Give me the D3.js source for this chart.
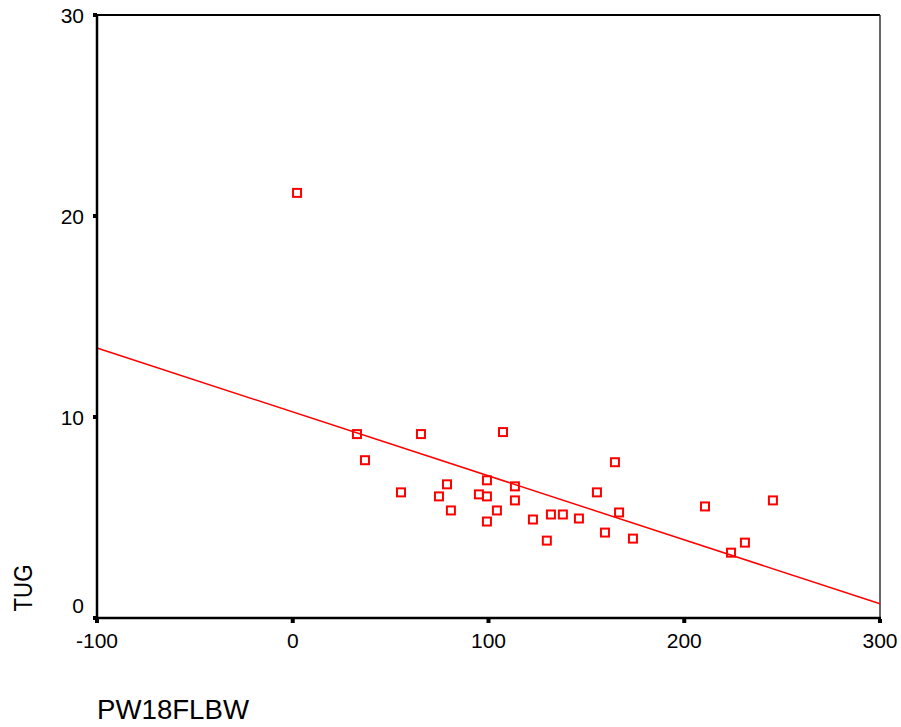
<!DOCTYPE html>
<html>
<head>
<meta charset="utf-8">
<script src="https://cdn.jsdelivr.net/npm/d3@7"></script>
<style>
    body { margin: 0; background: #fff; }
    text { font-family: "Liberation Sans", Arial, sans-serif; fill: #000; }
</style>
</head>
<body>
<script>
// data
var pw18flbw = [2.2, 32.8, 36.9, 55.3, 65.5, 74.7, 78.8, 80.8, 95.1, 99.2, 99.2, 99.2, 104.3, 107.4, 113.5,
    113.5, 122.7, 129.8, 131.9, 138.0, 146.2, 155.4, 159.5, 164.6, 166.7, 173.8, 210.6, 223.9, 231.0, 245.3];
var tug = [21.15, 9.15, 7.85, 6.25, 9.15, 6.05, 6.65, 5.35, 6.15, 6.05, 6.85, 4.8, 5.35, 9.25, 6.55,
    5.85, 4.9, 3.85, 5.15, 5.15, 4.95, 6.25, 4.25, 7.75, 5.25, 3.95, 5.55, 3.25, 3.75, 5.85];

// fitted line, TUG = a + b * PW18FLBW
var fit = {a: 10.25, b: -0.0318};

var xTicks = [-100, 0, 100, 200, 300];
var yTicks = [0, 10, 20, 30];

var width = 901, height = 727;
var margin = {left: 97, right: 880, top: 15, bottom: 618};

var svg = d3.select("body").append("svg")
    .attr("width", width)
    .attr("height", height);

var x = d3.scaleLinear().domain([-100, 300]).range([margin.left, margin.right]);
var y = d3.scaleLinear().domain([0, 30]).range([margin.bottom, margin.top]);

// frame
svg.append("line")
    .attr("x1", margin.left).attr("y1", margin.top).attr("x2", margin.right).attr("y2", margin.top)
    .style("stroke", "#000").style("stroke-width", 2);
svg.append("line")
    .attr("x1", margin.right).attr("y1", margin.top).attr("x2", margin.right).attr("y2", margin.bottom)
    .style("stroke", "#333").style("stroke-width", 1.5);

// regression line
svg.append("line")
    .attr("x1", x(-100)).attr("y1", y(fit.a + fit.b * -100))
    .attr("x2", x(300)).attr("y2", y(fit.a + fit.b * 300))
    .style("stroke", "#ff0000")
    .style("stroke-width", 1.5);

// points
svg.selectAll("rect.pt")
    .data(d3.range(pw18flbw.length))
    .enter().append("rect")
    .attr("class", "pt")
    .attr("x", function (i) { return x(pw18flbw[i]) - 4; })
    .attr("y", function (i) { return y(tug[i]) - 4; })
    .attr("width", 8)
    .attr("height", 8)
    .style("fill", "none")
    .style("stroke", "#ff0000")
    .style("stroke-width", 2);

// axes lines
svg.append("line")
    .attr("x1", margin.left).attr("y1", margin.top).attr("x2", margin.left).attr("y2", margin.bottom + 1)
    .style("stroke", "#000").style("stroke-width", 2.5);
svg.append("line")
    .attr("x1", margin.left).attr("y1", margin.bottom).attr("x2", margin.right + 1).attr("y2", margin.bottom)
    .style("stroke", "#000").style("stroke-width", 2.5);

// ticks
svg.selectAll("rect.yt")
    .data(yTicks)
    .enter().append("rect")
    .attr("class", "yt")
    .attr("x", margin.left - 4)
    .attr("y", function (d) { return y(d) - 2; })
    .attr("width", 4).attr("height", 4)
    .style("fill", "#000");

svg.selectAll("rect.xt")
    .data(xTicks)
    .enter().append("rect")
    .attr("class", "xt")
    .attr("x", function (d) { return x(d) - 2; })
    .attr("y", margin.bottom + 1)
    .attr("width", 4).attr("height", 4)
    .style("fill", "#000");

// tick labels
svg.selectAll("text.yl")
    .data(yTicks)
    .enter().append("text")
    .attr("class", "yl")
    .attr("x", 84)
    .attr("y", function (d) { return d === 0 ? y(d) - 5 : y(d) + 7.5; })
    .attr("text-anchor", "end")
    .style("font-size", "21px")
    .text(function (d) { return d; });

svg.selectAll("text.xl")
    .data(xTicks)
    .enter().append("text")
    .attr("class", "xl")
    .attr("x", function (d) { return x(d); })
    .attr("y", 648)
    .attr("text-anchor", "middle")
    .style("font-size", "21px")
    .text(function (d) { return d; });

// axis titles
svg.append("text")
    .attr("transform", "translate(32,588) rotate(-90)")
    .attr("text-anchor", "middle")
    .attr("textLength", 47)
    .attr("lengthAdjust", "spacingAndGlyphs")
    .style("font-size", "26px")
    .text("TUG");

svg.append("text")
    .attr("x", 97)
    .attr("y", 719)
    .attr("textLength", 152)
    .attr("lengthAdjust", "spacingAndGlyphs")
    .style("font-size", "27px")
    .text("PW18FLBW");
</script>
</body>
</html>
